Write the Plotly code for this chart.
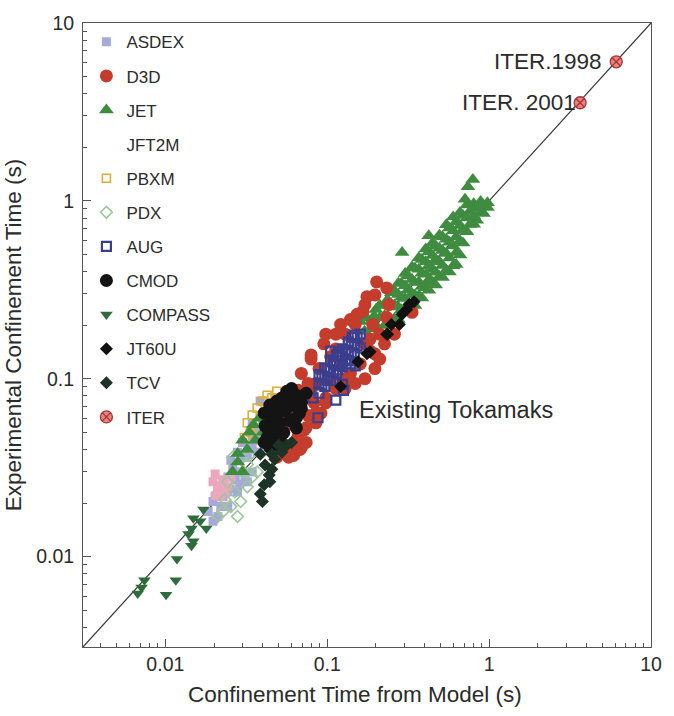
import numpy as np
import plotly.graph_objects as go

FONT = "Liberation Sans, Arial, Helvetica, sans-serif"
TXT = "#2b2b2b"

# axis extent (seconds)
AX_MIN = 0.0031
AX_MAX = 10.0
major_ticks = [0.01, 0.1, 1, 10]
major_text = ["0.01", "0.1", "1", "10"]

# ---------------- data (seconds): model (x) vs experiment (y) ----------------
asdex_x = [0.0385, 0.0425, 0.0344, 0.030, 0.0279, 0.0321, 0.0369, 0.0408, 0.0261, 0.030, 0.0344, 0.0243, 0.0211, 0.0227,
           0.0197, 0.0184, 0.0211, 0.0243, 0.0279, 0.0321, 0.0254, 0.0197, 0.035, 0.038, 0.040, 0.027, 0.025,
           0.030, 0.0344, 0.0268, 0.0243, 0.022, 0.0369, 0.0408, 0.0227, 0.0203, 0.0288, 0.031]
asdex_y = [0.0748, 0.0684, 0.0565, 0.0438, 0.0386, 0.0362, 0.0386, 0.0411, 0.0318, 0.0299, 0.0299, 0.028, 0.0247, 0.0217,
           0.0204, 0.0179, 0.0168, 0.0191, 0.0231, 0.0263, 0.0348, 0.0158, 0.045, 0.050, 0.055, 0.027, 0.024,
           0.0362, 0.0411, 0.0299, 0.0231, 0.0191, 0.0467, 0.0529, 0.0263, 0.0217, 0.0255, 0.027]

d3d_x = [0.202, 0.233, 0.176, 0.166, 0.233, 0.321, 0.334, 0.191, 0.153, 0.0953, 0.105, 0.0692, 0.0762, 0.0663, 0.184, 0.160,
         0.139, 0.083, 0.0762, 0.0721, 0.0663, 0.098, 0.113, 0.0795, 0.149, 0.129, 0.0562, 0.0524, 0.0602, 0.062, 0.055,
         0.0488, 0.0741, 0.0852, 0.0914, 0.098, 0.129, 0.149, 0.171, 0.197, 0.226, 0.26, 0.211, 0.184, 0.062, 0.065, 0.068,
         0.0602, 0.0645, 0.0741, 0.0852, 0.089, 0.0795, 0.113, 0.121, 0.139, 0.171, 0.197, 0.24, 0.171, 0.197, 0.211,
         0.129, 0.113, 0.098, 0.0852, 0.0741, 0.0692, 0.0577, 0.0524, 0.0795, 0.105, 0.121]
d3d_y = [0.35, 0.324, 0.289, 0.239, 0.221, 0.251, 0.236, 0.202, 0.23, 0.157, 0.133, 0.107, 0.094, 0.086, 0.143, 0.121,
         0.107, 0.073, 0.062, 0.0516, 0.0479, 0.178, 0.147, 0.129, 0.202, 0.178, 0.0565, 0.0438, 0.0386, 0.037, 0.040,
         0.0362, 0.0438, 0.0565, 0.064, 0.078, 0.088, 0.094, 0.100, 0.114, 0.157, 0.178, 0.178, 0.167, 0.055, 0.045, 0.040,
         0.064, 0.073, 0.078, 0.094, 0.114, 0.136, 0.178, 0.202, 0.215, 0.261, 0.296, 0.261, 0.157, 0.138, 0.129,
         0.100, 0.088, 0.073, 0.064, 0.053, 0.0411, 0.0362, 0.0529, 0.0828, 0.100, 0.121]

jet_x = [0.226, 0.226, 0.226, 0.249, 0.249, 0.249, 0.275, 0.275, 0.275, 0.275, 0.303, 0.303, 0.303, 0.303,
         0.334, 0.334, 0.334, 0.334, 0.368, 0.368, 0.368, 0.368, 0.406, 0.406, 0.406, 0.406, 0.448, 0.448, 0.448, 0.448,
         0.493, 0.493, 0.493, 0.493, 0.544, 0.544, 0.544, 0.544, 0.600, 0.600, 0.600, 0.600, 0.661, 0.661, 0.661, 0.661,
         0.729, 0.729, 0.729, 0.803, 0.803, 0.803, 0.886, 0.886, 0.977, 0.977,
         0.236, 0.236, 0.260, 0.260, 0.260, 0.287, 0.287, 0.287, 0.316, 0.316, 0.316, 0.348, 0.348, 0.348, 0.348,
         0.384, 0.384, 0.384, 0.384, 0.424, 0.424, 0.424, 0.424, 0.467, 0.467, 0.467, 0.467, 0.515, 0.515, 0.515, 0.515,
         0.568, 0.568, 0.568, 0.568, 0.626, 0.626, 0.626, 0.626, 0.690, 0.690, 0.690, 0.760, 0.760, 0.838, 0.838,
         0.924, 0.924,
         0.793, 0.74, 0.71, 0.424, 0.29,
         0.16, 0.175, 0.19, 0.185, 0.2, 0.17, 0.211, 0.211, 0.195, 0.2,
         0.030, 0.033, 0.035, 0.038, 0.036, 0.040, 0.042, 0.032, 0.028, 0.028, 0.030, 0.026]
jet_y = [0.258, 0.226, 0.199, 0.304, 0.261, 0.212, 0.344, 0.297, 0.253, 0.215, 0.391, 0.333, 0.282, 0.236,
         0.424, 0.361, 0.301, 0.261, 0.478, 0.412, 0.35, 0.294, 0.536, 0.455, 0.386, 0.325, 0.582, 0.493, 0.412, 0.349,
         0.641, 0.542, 0.454, 0.375, 0.734, 0.609, 0.506, 0.408, 0.81, 0.678, 0.558, 0.432, 0.859, 0.727, 0.595, 0.496,
         0.948, 0.802, 0.671, 0.964, 0.827, 0.739, 0.992, 0.859, 0.977, 0.918,
         0.278, 0.224, 0.312, 0.26, 0.218, 0.344, 0.287, 0.244, 0.379, 0.316, 0.265, 0.418, 0.348, 0.296, 0.258,
         0.468, 0.392, 0.33, 0.284, 0.517, 0.432, 0.36, 0.314, 0.56, 0.467, 0.397, 0.336, 0.628, 0.525, 0.433, 0.371,
         0.704, 0.585, 0.477, 0.398, 0.764, 0.626, 0.513, 0.438, 0.828, 0.69, 0.58, 0.874, 0.737, 0.905, 0.779,
         0.942, 0.85,
         1.32, 1.2, 1.02, 0.637, 0.513,
         0.21, 0.22, 0.215, 0.19, 0.2, 0.185, 0.26, 0.22, 0.225, 0.245,
         0.045, 0.05, 0.055, 0.06, 0.045, 0.05, 0.058, 0.04, 0.038, 0.034, 0.030, 0.030]

jft2m_x = [0.0197, 0.0211, 0.0227, 0.0243, 0.022, 0.0203, 0.0254, 0.0215, 0.0235, 0.0205]
jft2m_y = [0.0263, 0.0237, 0.027, 0.0247, 0.0217, 0.0291, 0.028, 0.025, 0.0228, 0.022]

pbxm_x = [0.0321, 0.0344, 0.0369, 0.0398, 0.0425, 0.0455, 0.0335, 0.0369, 0.0308, 0.0408, 0.0488]
pbxm_y = [0.0565, 0.0625, 0.0684, 0.0748, 0.0807, 0.078, 0.0498, 0.0529, 0.0467, 0.064, 0.085]

pdx_x = [0.0279, 0.030, 0.0321, 0.0344, 0.0243, 0.0268, 0.0292, 0.0254, 0.0227, 0.0211, 0.0321, 0.0369, 0.0279,
         0.0233, 0.0261, 0.033]
pdx_y = [0.0318, 0.0299, 0.033, 0.028, 0.0263, 0.0231, 0.0204, 0.0191, 0.0179, 0.0168, 0.0247, 0.0299, 0.0168,
         0.0209, 0.0362, 0.037]

aug_x = [0.089, 0.089, 0.089, 0.0966, 0.0966, 0.0966, 0.105, 0.105, 0.105, 0.1143, 0.1143, 0.1143,
         0.124, 0.124, 0.124, 0.135, 0.135, 0.135, 0.147, 0.147, 0.147, 0.160, 0.160,
         0.0927, 0.0927, 0.1007, 0.1007, 0.1096, 0.1096, 0.119, 0.119, 0.1295, 0.1295, 0.1407, 0.1407, 0.153, 0.153,
         0.126, 0.113, 0.0877, 0.0818, 0.105, 0.143, 0.1175, 0.139, 0.149, 0.124, 0.100, 0.116, 0.130, 0.110]
aug_y = [0.1055, 0.094, 0.0828, 0.115, 0.1027, 0.0905, 0.1245, 0.111, 0.0977, 0.136, 0.121, 0.107,
         0.147, 0.133, 0.117, 0.161, 0.143, 0.126, 0.176, 0.157, 0.138, 0.178, 0.149,
         0.1037, 0.0924, 0.113, 0.1007, 0.1228, 0.1094, 0.1334, 0.1189, 0.145, 0.129, 0.1575, 0.140, 0.1713, 0.1528,
         0.086, 0.0757, 0.0603, 0.078, 0.143, 0.171, 0.1416, 0.121, 0.118, 0.093, 0.098, 0.112, 0.138, 0.120]

cmod_x = [0.0408, 0.0442, 0.0488, 0.0562, 0.0645, 0.0602, 0.0524, 0.0455, 0.0692, 0.0673, 0.0585, 0.0509, 0.0425,
          0.0468, 0.0539, 0.0645, 0.0408, 0.0442, 0.0602, 0.0741, 0.0563, 0.0502, 0.0413, 0.0438, 0.0588,
          0.0488, 0.0562, 0.0602, 0.0524, 0.0455, 0.0425, 0.052, 0.0645, 0.0692]
cmod_y = [0.064, 0.0711, 0.0748, 0.078, 0.0807, 0.0711, 0.0658, 0.0603, 0.073, 0.064, 0.058, 0.0565, 0.0529,
          0.0486, 0.0498, 0.0529, 0.0438, 0.0411, 0.088, 0.0828, 0.085, 0.0422, 0.0543, 0.0438, 0.0588,
          0.064, 0.068, 0.078, 0.078, 0.0529, 0.0467, 0.043, 0.0603, 0.068]

compass_x = [0.0149, 0.0172, 0.0164, 0.0145, 0.0179, 0.0139, 0.0149, 0.0145, 0.0118, 0.0116, 0.0101, 0.00743,
             0.00713, 0.00675]
compass_y = [0.0164, 0.0184, 0.0158, 0.0144, 0.0144, 0.0134, 0.0122, 0.0115, 0.0097, 0.00735, 0.0061, 0.00735,
             0.0067, 0.0062]

jt60u_x = [0.29, 0.279, 0.236, 0.184, 0.155, 0.121, 0.249, 0.233, 0.321, 0.344, 0.176, 0.31]
jt60u_y = [0.23, 0.202, 0.178, 0.1416, 0.1245, 0.0905, 0.202, 0.178, 0.261, 0.271, 0.138, 0.245]

tcv_x = [0.0386, 0.0413, 0.0438, 0.0408, 0.0386, 0.0398, 0.0455, 0.0474, 0.0455, 0.0502, 0.0524, 0.0562, 0.0602,
         0.0442]
tcv_y = [0.0376, 0.0327, 0.0287, 0.0253, 0.0225, 0.0204, 0.0376, 0.0352, 0.031, 0.0422, 0.0386, 0.0422, 0.0438,
         0.0263]

iter_x = [6.1, 3.65]
iter_y = [6.05, 3.56]
iter_labels = ["ITER.1998", "ITER. 2001"]

# ---------------- styling per series ----------------
# name, x, y, symbol, fill, line colour, size, legend rank
series = [
    ("ASDEX", asdex_x, asdex_y, "square", "#a7aad8", "#a7aad8", 9, 1),
    ("JFT2M", jft2m_x, jft2m_y, "square", "#eaa7bd", "#eaa7bd", 9, 4),
    ("PDX", pdx_x, pdx_y, "diamond-open", "#9cc79c", "#9cc79c", 9, 6),
    ("PBXM", pbxm_x, pbxm_y, "square-open", "#dcae3c", "#dcae3c", 8, 5),
    ("JET", jet_x, jet_y, "triangle-up", "#3f8c41", "#3f8c41", 13, 3),
    ("D3D", d3d_x, d3d_y, "circle", "#c43c2c", "#c43c2c", 13, 2),
    ("AUG", aug_x, aug_y, "square-open", "#3b3e8e", "#3b3e8e", 9, 7),
    ("CMOD", cmod_x, cmod_y, "circle", "#141414", "#141414", 13, 8),
    ("TCV", tcv_x, tcv_y, "diamond", "#1c3325", "#1c3325", 10, 11),
    ("JT60U", jt60u_x, jt60u_y, "diamond", "#111111", "#111111", 10, 10),
    ("COMPASS", compass_x, compass_y, "triangle-down", "#2e6c3b", "#2e6c3b", 11, 9),
    ("ITER", iter_x, iter_y, "circle-x", "#e58482", "#a83333", 12, 12),
]

fig = go.Figure()

# y = x reference line across the full axis extent
diag = [AX_MIN, AX_MAX]
fig.add_trace(go.Scatter(x=diag, y=diag, mode="lines", line=dict(color="#3a3a3a", width=1.2),
                         showlegend=False, hoverinfo="skip"))

for name, xs, ys, sym, fill, lc, size, rank in series:
    lw = 2.2 if name == "AUG" else (1.6 if "open" in sym else (1.3 if sym == "circle-x" else 0))
    hidden_legend = name == "JFT2M"
    fig.add_trace(go.Scatter(
        x=xs, y=ys, mode="markers", name=name, legendgroup=name, legendrank=rank,
        showlegend=not hidden_legend,
        marker=dict(symbol=sym, size=size, color=fill, line=dict(color=lc, width=lw)),
    ))
    if hidden_legend:
        fig.add_trace(go.Scatter(
            x=[None], y=[None], mode="markers", name=name, legendgroup=name, legendrank=rank,
            marker=dict(symbol=sym, size=size, color="rgba(0,0,0,0)"),
        ))

# text labels
fig.add_annotation(x=np.log10(0.153), y=np.log10(0.0667), text="Existing Tokamaks", showarrow=False,
                   xanchor="left", yanchor="middle", font=dict(family=FONT, size=23.5, color=TXT))
for lx, ly, lab, shift in zip(iter_x, iter_y, iter_labels, [-12, -2]):
    fig.add_annotation(x=np.log10(lx), y=np.log10(ly), text=lab, showarrow=False, xanchor="right",
                       yanchor="middle", xshift=shift, font=dict(family=FONT, size=22.5, color=TXT))

# x-axis title (placed slightly left of the plot centre, as in the original)
fig.add_annotation(xref="paper", yref="paper", x=0.478, y=0, yshift=-47, xanchor="center", yanchor="middle",
                   text="Confinement Time from Model (s)", showarrow=False,
                   font=dict(family=FONT, size=22.5, color=TXT))

minor_vals = [m * 10.0 ** e for e in range(-3, 1) for m in range(2, 10)]
axis_common = dict(
    type="log", range=[np.log10(AX_MIN), np.log10(AX_MAX)], tickvals=major_ticks, ticktext=major_text,
    ticks="inside", ticklen=8, tickwidth=1, tickcolor="#555555",
    showline=True, linecolor="#555555", linewidth=1, mirror=True,
    showgrid=False, zeroline=False,
    tickfont=dict(family=FONT, size=19.5, color=TXT),
    minor=dict(tickvals=minor_vals, ticks="inside", ticklen=4, tickcolor="#555555", showgrid=False),
)
fig.update_xaxes(**axis_common)
fig.update_yaxes(**axis_common, ticklabelstandoff=4,
                 title=dict(text="Experimental Confinement Time (s)", standoff=8,
                            font=dict(family=FONT, size=22.5, color=TXT)))

fig.update_layout(
    width=674, height=716,
    margin=dict(l=78, r=17, t=14, b=69),
    paper_bgcolor="white", plot_bgcolor="white",
    font=dict(family=FONT, color=TXT),
    legend=dict(x=0.006, y=0.998, xanchor="left", yanchor="top", bgcolor="rgba(0,0,0,0)",
                font=dict(family=FONT, size=17, color=TXT), traceorder="grouped", tracegroupgap=9),
)

fig.write_html("out.html")
